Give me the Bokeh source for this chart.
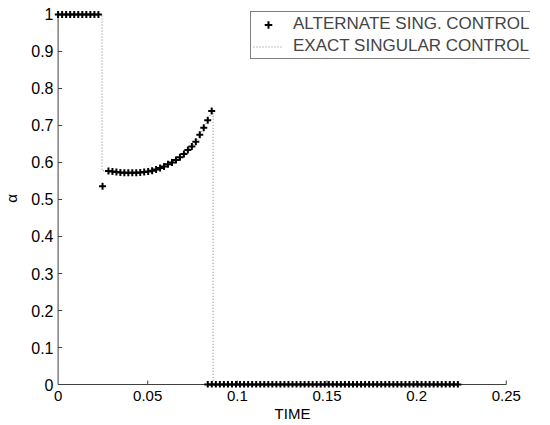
import math
from bokeh.plotting import figure
from bokeh.models import (Range1d, FixedTicker, CustomJSTickFormatter, Legend,
                          LegendItem)
from bokeh.embed import file_html
from bokeh.resources import INLINE

# ---- data ----
dt = 0.00225                      # sampling step of the alternate control
high_t0, n_high = 0.0, 11         # samples at alpha = 1
jump_t = [0.0248]                 # first sample after the switch
alpha_jump = [0.536]
curve_t0, curve_dt = 0.0281, 0.002215
alpha_curve = [0.577, 0.576, 0.574, 0.573, 0.572, 0.572, 0.572, 0.572, 0.573,
               0.574, 0.576, 0.578, 0.581, 0.585, 0.589, 0.595, 0.600, 0.607,
               0.614, 0.623, 0.634, 0.643, 0.656, 0.675, 0.694, 0.714, 0.739]
zero_t0, n_zero = 0.0835, 63      # samples at alpha = 0
switch_on = 0.0245                # exact control: start of singular arc
switch_off = 0.0865               # exact control: end of singular arc
exact_start = 0.578
exact_end = 0.745
t_end = 0.223

x_ticks = [0, 0.05, 0.1, 0.15, 0.2, 0.25]
y_ticks = [0, 0.1, 0.2, 0.3, 0.4, 0.5, 0.6, 0.7, 0.8, 0.9, 1]

high_t = [high_t0 + i * dt for i in range(n_high)]
curve_t = [curve_t0 + i * curve_dt for i in range(len(alpha_curve))]
zero_t = [zero_t0 + i * dt for i in range(n_zero)]

alt_t = high_t + jump_t + curve_t + zero_t
alt_alpha = [1.0] * n_high + alpha_jump + alpha_curve + [0.0] * n_zero

exact_t = [0.0, switch_on, switch_on] + curve_t + [switch_off, switch_off, t_end]
exact_a = [1.0, 1.0, exact_start] + alpha_curve + [exact_end, 0.0, 0.0]

FONT = "Liberation Sans"
AXIS_COLOR = "#404040"

# frame extends right of the x axis end so the legend (which overhangs it) is not clipped
p = figure(width=550, height=425, output_backend="svg", toolbar_location=None,
           x_range=Range1d(-0.002, 0.26352), y_range=Range1d(-0.0081, 1.0135),
           min_border_left=51, min_border_right=20, min_border_top=9,
           min_border_bottom=38)
p.grid.visible = False
p.outline_line_color = None
p.background_fill_color = "white"
p.border_fill_color = "white"

# axis lines and inward ticks drawn inside the frame (so markers on them are not clipped)
p.line([x_ticks[0], x_ticks[-1]], [y_ticks[0], y_ticks[0]], line_color=AXIS_COLOR, line_width=1)
p.line([x_ticks[0], x_ticks[0]], [y_ticks[0], y_ticks[-1]], line_color=AXIS_COLOR, line_width=1)
p.ray(x=x_ticks[1:], y=[y_ticks[0]] * (len(x_ticks) - 1), length=4, angle=math.pi / 2,
      length_units="screen", line_color=AXIS_COLOR, line_width=1)
p.ray(x=[x_ticks[0]] * (len(y_ticks) - 1), y=y_ticks[1:], length=4, angle=0,
      length_units="screen", line_color=AXIS_COLOR, line_width=1)

r_exact = p.line(exact_t, exact_a, line_color="#808080", line_width=1,
                 line_dash="1 2")
r_alt = p.scatter(alt_t, alt_alpha, marker="cross", size=7, line_width=2,
                  line_color="black")

for ax, ticks, fs in ((p.xaxis[0], x_ticks, "15px"), (p.yaxis[0], y_ticks, "16px")):
    ax.ticker = FixedTicker(ticks=ticks)
    ax.formatter = CustomJSTickFormatter(code="return String(Number(tick.toFixed(4)))")
    ax.minor_tick_line_color = None
    ax.major_tick_line_color = None
    ax.axis_line_color = None
    ax.major_tick_in = 0
    ax.major_tick_out = 0
    ax.major_label_text_font = FONT
    ax.major_label_text_font_size = fs
    ax.major_label_text_color = "black"
    ax.axis_label_text_font = FONT
    ax.axis_label_text_font_size = "15px"
    ax.axis_label_text_font_style = "normal"
    ax.axis_label_text_color = "black"

p.xaxis[0].axis_label = "TIME"
p.yaxis[0].axis_label = "α"
p.xaxis[0].major_label_standoff = 3
p.xaxis[0].axis_label_standoff = 1
p.yaxis[0].major_label_standoff = 1
p.yaxis[0].axis_label_standoff = 8

legend = Legend(items=[LegendItem(label="ALTERNATE SING. CONTROL", renderers=[r_alt]),
                       LegendItem(label="EXACT SINGULAR CONTROL", renderers=[r_exact])],
                location=(196, 328), padding=2, spacing=2, margin=0,
                glyph_width=30, glyph_height=19, label_height=19, label_standoff=10,
                border_line_color="black", border_line_width=1,
                label_text_font=FONT, label_text_font_size="17px",
                background_fill_color="white", background_fill_alpha=1)
p.add_layout(legend)

open("out.html", "w").write(file_html(p, INLINE))
